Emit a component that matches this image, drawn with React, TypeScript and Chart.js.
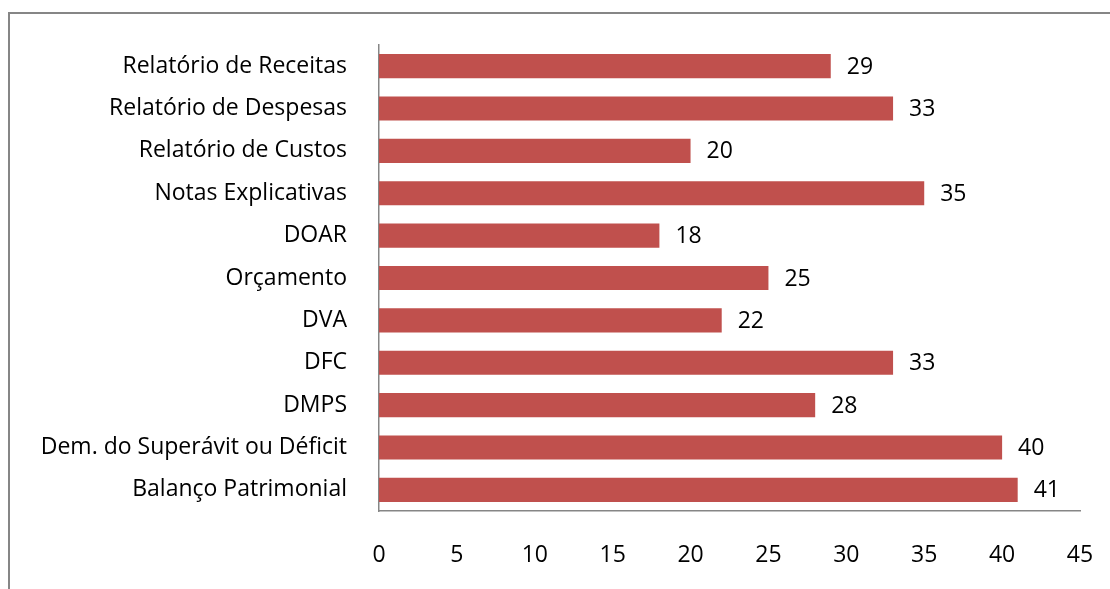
import React, { useEffect, useRef } from "react";
import { Chart, registerables } from "chart.js";

Chart.register(...registerables);

const categories = [
  "Relatório de Receitas",
  "Relatório de Despesas",
  "Relatório de Custos",
  "Notas Explicativas",
  "DOAR",
  "Orçamento",
  "DVA",
  "DFC",
  "DMPS",
  "Dem. do Superávit ou Déficit",
  "Balanço Patrimonial",
];
const values = [29, 33, 20, 35, 18, 25, 22, 33, 28, 40, 41];
const xMin = 0;
const xMax = 45;
const xStep = 5;

const FONT = "'Open Sans', sans-serif";
const FONT_SIZE = 23;

const framePlugin = {
  id: "frame",
  beforeDraw(chart: any) {
    const ctx = chart.ctx;
    ctx.save();
    ctx.fillStyle = "#ffffff";
    ctx.fillRect(0, 0, chart.width, chart.height);
    ctx.strokeStyle = "#868686";
    ctx.lineWidth = 2;
    ctx.beginPath();
    ctx.moveTo(9, chart.height);
    ctx.lineTo(9, 13);
    ctx.lineTo(chart.width, 13);
    ctx.stroke();
    ctx.restore();
  },
};

const labelPlugin = {
  id: "valueLabels",
  afterDatasetsDraw(chart: any) {
    const ctx = chart.ctx;
    const meta = chart.getDatasetMeta(0);
    ctx.save();
    ctx.fillStyle = "#000000";
    ctx.font = `${FONT_SIZE}px ${FONT}`;
    ctx.textAlign = "left";
    ctx.textBaseline = "middle";
    meta.data.forEach((bar: any, i: number) => {
      ctx.fillText(String(values[i]), bar.x + 16, bar.y + 1);
    });
    ctx.restore();
  },
};

export default function App() {
  const ref = useRef<HTMLCanvasElement>(null);
  useEffect(() => {
    document.body.style.margin = "0";
    const chart = new Chart(ref.current!, {
      type: "bar",
      data: {
        labels: categories,
        datasets: [
          {
            data: values,
            backgroundColor: "#C0504D",
            borderWidth: 0,
            categoryPercentage: 1,
            barPercentage: 0.57,
          },
        ],
      },
      options: {
        indexAxis: "y",
        animation: false,
        responsive: false,
        devicePixelRatio: 1,
        layout: { padding: { top: 45, right: 30, left: 0, bottom: 0 } },
        plugins: {
          legend: { display: false },
          tooltip: { enabled: false },
        },
        scales: {
          x: {
            min: xMin,
            max: xMax,
            ticks: {
              stepSize: xStep,
              color: "#000000",
              font: { family: FONT, size: FONT_SIZE },
              padding: 31,
            },
            grid: { display: false, drawTicks: false },
            border: { display: true, color: "#868686", width: 1.5 },
            afterFit(scale: any) {
              scale.height = 78;
              scale.paddingLeft = 0;
              scale.paddingRight = 0;
            },
          },
          y: {
            ticks: {
              color: "#000000",
              font: { family: FONT, size: FONT_SIZE },
              padding: 32,
              autoSkip: false,
            },
            grid: { display: false, drawTicks: false },
            border: { display: true, color: "#868686", width: 1.5 },
            afterFit(scale: any) {
              scale.width = 379;
              scale.paddingTop = 0;
              scale.paddingBottom = 0;
            },
          },
        },
      },
      plugins: [framePlugin, labelPlugin],
    });
    return () => chart.destroy();
  }, []);
  return (
    <div style={{ position: "absolute", left: 0, top: 0, width: 1110, height: 589 }}>
      <canvas ref={ref} width={1110} height={589} style={{ display: "block" }} />
    </div>
  );
}
